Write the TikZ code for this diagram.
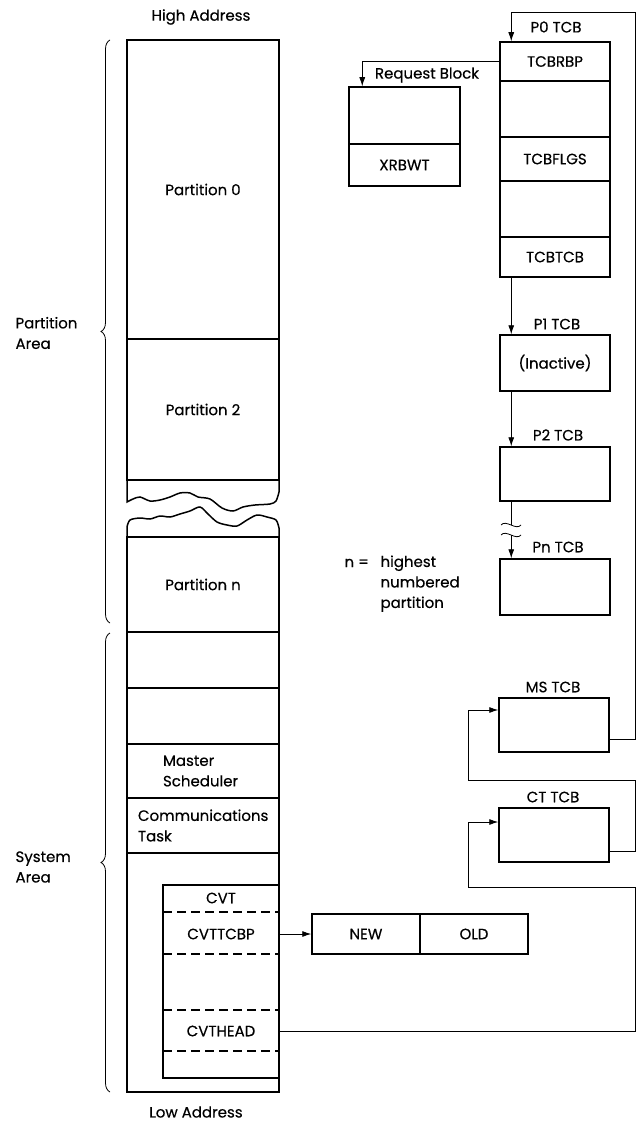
\documentclass[tikz,border=0pt]{standalone}
\usepackage{fontspec}
\setmainfont{Poppins}[FakeBold=0.4]
\usepackage{tikz}
\usetikzlibrary{arrows.meta, calc, decorations.pathreplacing}

\begin{document}
\begin{tikzpicture}[x=1pt, y=-1pt, >={Latex[length=9pt,width=6pt]},
    font=\fontsize{15}{20.5}\selectfont,
    box/.style={draw, line width=1.5pt, inner sep=0pt},
    seg/.style={box, minimum width=152pt},
    tcb/.style={box, minimum width=110pt},
    arr/.style={->, line width=0.8pt},
    link/.style={line width=0.8pt},
    cut/.style={line width=1.5pt, dash pattern=on 9pt off 5pt},
    brc/.style={decorate, decoration={brace, amplitude=9pt}, line width=0.8pt}]
    \useasboundingbox (0,0) rectangle (639,1121);

    % Cột bộ nhớ
    \node (high) at (201,17) {High Address};
    \node[seg, minimum height=299pt] (part0) at (203,189.5) {Partition 0};
    \node[seg, minimum height=141pt] (part2) at (203,409.5) {Partition 2};
    \draw[line width=1.5pt] (127,480) -- plot[smooth] coordinates {(127,502) (133,499) (140,497)
        (150,501) (160,500) (170,497) (180,493) (190,493) (198,497) (210,499) (222,508)
        (233,511) (243,507) (255,505) (270,504) (276,501) (279,492)} -- (279,480);
    \draw[line width=1.5pt] (127,537) -- plot[smooth] coordinates {(127,527) (130,520) (140,518)
        (150,519) (160,516) (170,517) (180,514) (190,511) (200,507) (208,514) (217,522)
        (227,525) (237,526) (247,520) (257,515) (267,517) (276,520) (279,528)} -- (279,537);
    \node[seg, minimum height=95pt] (partn) at (203,584.5) {Partition n};
    \node[seg, minimum height=56pt] (sysa) at (203,660) {};
    \node[seg, minimum height=56pt] (sysb) at (203,716) {};
    \node[seg, minimum height=54pt, text width=80pt, inner xsep=36pt, align=left] (msch) at (203,771) {Master\\Scheduler};
    \node[seg, minimum height=55pt, text width=130pt, inner xsep=11pt, align=left] (comm) at (203,825.5) {Communications\\Task};
    \node[seg, minimum height=239pt] (lowseg) at (203,972.5) {};
    \node (low) at (196,1112) {Low Address};

    % CVT
    \node[box, minimum width=116pt, minimum height=193pt] (cvt) at (221,981.5) {};
    \foreach \yy in {912,954,1010,1051}
        \draw[cut] (163,\yy) -- (279,\yy);
    \node (cvtt) at (221,898) {CVT};
    \node (cvttcbp) at (221,934) {CVTTCBP};
    \node (cvthead) at (221,1031) {CVTHEAD};
    \node[box, minimum width=108pt, minimum height=40pt] (new) at (366,934) {NEW};
    \node[box, minimum width=108pt, minimum height=40pt] (old) at (474,934) {OLD};

    % Ngoặc
    \draw[brc] (110,623) -- (110,40);
    \draw[brc] (110,1092) -- (110,633);
    \node[anchor=west, align=left] (parea) at (12,333) {Partition\\Area};
    \node[anchor=west, align=left] (sarea) at (12,867) {System\\Area};

    % P0 TCB
    \node (p0lbl) at (556,27) {P0 TCB};
    \node[tcb, minimum height=39pt] (tcbrbp) at (555,61.5) {TCBRBP};
    \node[tcb, minimum height=56pt] (tcbb1) at (555,109) {};
    \node[tcb, minimum height=44pt] (tcbflgs) at (555,159) {TCBFLGS};
    \node[tcb, minimum height=56pt] (tcbb2) at (555,209) {};
    \node[tcb, minimum height=40pt] (tcbtcb) at (555,257) {TCBTCB};

    % Request Block
    \node (rblbl) at (427,75) {Request Block};
    \node[box, minimum width=111pt, minimum height=57pt] (rbtop) at (404.5,115.5) {};
    \node[box, minimum width=111pt, minimum height=42pt] (xrbwt) at (404.5,165) {XRBWT};

    % P1, P2, Pn TCB
    \node (p1lbl) at (557,324) {P1 TCB};
    \node[tcb, minimum height=56pt] (p1) at (555,363) {(Inactive)};
    \node (p2lbl) at (558,435) {P2 TCB};
    \node[tcb, minimum height=54pt] (p2) at (555,474) {};
    \node (pnlbl) at (558,547) {Pn TCB};
    \node[tcb, minimum height=56pt] (pn) at (555,587) {};
    \node[anchor=west] (neq) at (341,563) {n =};
    \node[anchor=north west, align=left] (ndef) at (377,552) {highest\\numbered\\partition};

    % MS TCB, CT TCB
    \node (mslbl) at (553,687) {MS TCB};
    \node[tcb, minimum height=54pt] (ms) at (554,725) {};
    \node (ctlbl) at (553,797) {CT TCB};
    \node[tcb, minimum height=54pt] (ct) at (554,835) {};

    % Mũi tên
    \draw[arr] (tcbrbp.west) -| ($(rbtop.north west)+(14,0)$);
    \draw[arr] ($(tcbtcb.south west)+(12,0)$) -- ($(p1.north west)+(12,0)$);
    \draw[arr] ($(p1.south west)+(12,0)$) -- ($(p2.north west)+(12,0)$);
    \draw[link] ($(p2.south west)+(12,0)$) -- ++(0,23);
    \foreach \ty in {525,535}
        \draw[link] (501,\ty) .. controls (506,{\ty-6}) and (516,{\ty+6}) .. (521,\ty);
    \draw[arr] ($(pn.north west)+(12,-23)$) -- ($(pn.north west)+(12,0)$);
    \draw[arr] ($(ms.east)+(0,14)$) -| (635,12) -| ($(tcbrbp.north west)+(12,0)$);
    \draw[arr] ($(ct.east)+(0,16)$) -| (635,780) -| (468,710) -- ($(ms.west)+(0,-15)$);
    \draw[arr] (cvthead -| cvt.east) -| (635,887) -| (468,822) -- ($(ct.west)+(0,-13)$);
    \draw[arr] (cvttcbp -| cvt.east) -- (new.west);
\end{tikzpicture}
\end{document}
